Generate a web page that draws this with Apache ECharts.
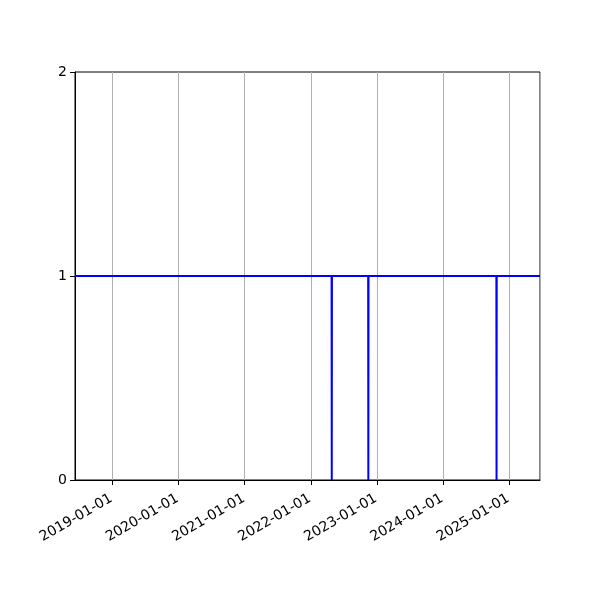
<!DOCTYPE html>
<html>
<head>
<meta charset="utf-8">
<script src="https://cdn.jsdelivr.net/npm/echarts@6/dist/echarts.min.js"></script>
<style>html,body{margin:0;padding:0;background:#fff}#c{width:600px;height:600px}</style>
</head>
<body>
<div id="c"></div>
<script>
const dates = ['2018-06-09','2022-04-26','2022-04-27','2022-04-28','2022-11-14','2022-11-15','2022-11-16','2024-10-22','2024-10-23','2024-10-24','2025-06-20'];
const values = [1,1,0,1,1,0,1,1,0,1,1];
const xMin = '2018-06-09';
const xMax = '2025-06-20';
const yTicks = [0,1,2];

const chart = echarts.init(document.getElementById('c'), null, {renderer:'canvas'});
const DAY = 86400000;
chart.setOption({
  animation:false,
  backgroundColor:'#fff',
  textStyle:{fontFamily:'DejaVu Sans'},
  grid:{left:75,right:60,top:72,bottom:120,show:true,borderColor:'#000',borderWidth:1,backgroundColor:'transparent'},
  xAxis:{
    type:'time',
    min:xMin, max:xMax,
    minInterval:365*DAY, maxInterval:366*DAY,
    axisLine:{show:true,lineStyle:{color:'#000',width:1}},
    axisTick:{show:true,length:5,lineStyle:{color:'#000'}},
    splitLine:{show:true,lineStyle:{color:'#b0b0b0',width:1}},
    minorTick:{show:false},
    axisLabel:{rotate:30,color:'#000',fontSize:14,fontFamily:'DejaVu Sans',margin:17,padding:[0,1,0,0],
      formatter:function(v){return echarts.time.format(v,'{yyyy}-{MM}-{dd}',false);},
      showMinLabel:false,showMaxLabel:false}
  },
  yAxis:{
    type:'value',min:yTicks[0],max:yTicks[yTicks.length-1],interval:1,
    axisLine:{show:true,lineStyle:{color:'#000',width:1}},
    axisTick:{show:true,length:5,lineStyle:{color:'#000'}},
    splitLine:{show:false},
    axisLabel:{color:'#000',fontSize:14,fontFamily:'DejaVu Sans',margin:8}
  },
  series:[{
    type:'line',
    data:dates.map((d,i)=>[d,values[i]]),
    showSymbol:false,
    lineStyle:{color:'#0000ff',width:2},
    clip:true
  }]
});
</script>
</body>
</html>
